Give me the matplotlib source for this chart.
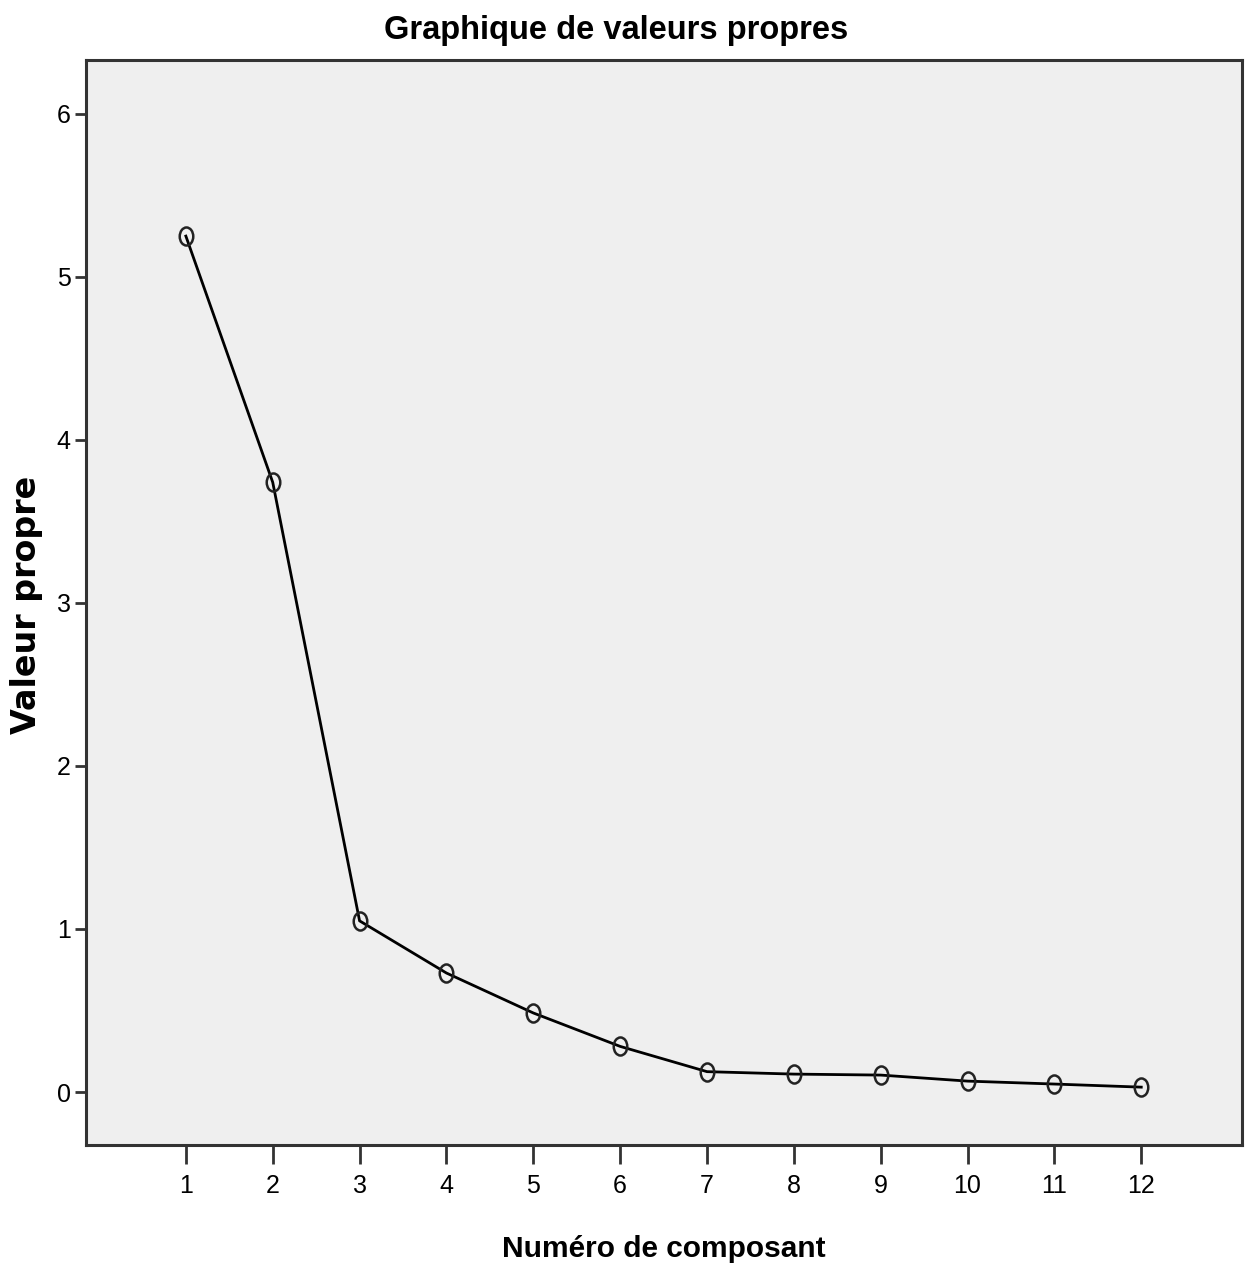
import matplotlib
matplotlib.use("Agg")
import matplotlib.pyplot as plt
from matplotlib.path import Path
from matplotlib.transforms import Affine2D

components = [1, 2, 3, 4, 5, 6, 7, 8, 9, 10, 11, 12]
eigenvalues = [5.25, 3.74, 1.05, 0.73, 0.485, 0.28, 0.125, 0.11, 0.104, 0.067, 0.049, 0.03]
yticks = [0, 1, 2, 3, 4, 5, 6]

font = "Liberation Sans"
ellipse = Path.unit_circle().transformed(Affine2D().scale(0.75, 1.0))

fig = plt.figure(figsize=(12.48, 12.69), dpi=100)
ax = fig.add_axes([0.0689, 0.0977, 0.9263, 0.855])
ax.set_facecolor("#efefef")
ax.plot(components, eigenvalues, color="black", lw=2,
        marker=ellipse, markersize=13, markerfacecolor="none",
        markeredgecolor="#222222", markeredgewidth=1.8)
ax.set_xlim(-0.15, 13.16)
ax.set_ylim(-0.325, 6.33)
ax.set_xticks(components)
ax.set_yticks(yticks)
ax.set_xticklabels([str(c) for c in components], fontfamily=font, fontsize=18)
ax.set_yticklabels([str(v) for v in yticks], fontfamily=font, fontsize=18)
ax.tick_params(direction="out", width=2, color="#333333")
ax.tick_params(axis="x", length=14, pad=7)
ax.tick_params(axis="y", length=8, pad=3)
for s in ax.spines.values():
    s.set_linewidth(2.2)
    s.set_color("#333333")

fig.text(0.494, 0.969, "Graphique de valeurs propres", ha="center", va="baseline",
         fontfamily=font, fontsize=23.5, fontweight="bold")
fig.text(0.532, 0.0095, "Numéro de composant", ha="center", va="baseline",
         fontfamily=font, fontsize=21.5, fontweight="bold")
fig.text(0.021, 0.523, "Valeur propre", ha="center", va="center", rotation=90,
         fontfamily="DejaVu Sans", fontsize=24, fontweight="bold")

fig.savefig("out.png", dpi=100, facecolor="white")
